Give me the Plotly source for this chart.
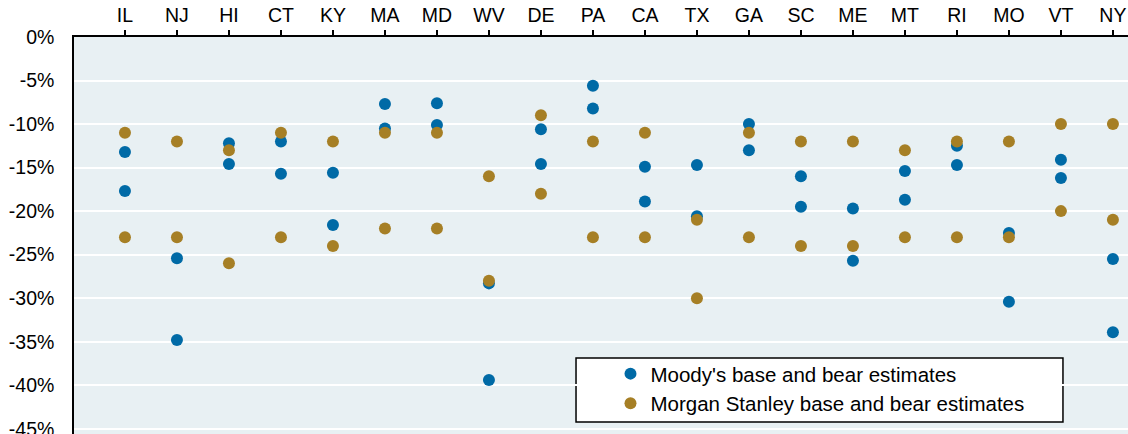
import plotly.graph_objects as go

states = ["IL", "NJ", "HI", "CT", "KY", "MA", "MD", "WV", "DE", "PA",
          "CA", "TX", "GA", "SC", "ME", "MT", "RI", "MO", "VT", "NY"]

moodys_base = [-13.2, -25.4, -12.2, -12.0, -15.6, -7.7, -7.6, -28.3, -10.6, -5.6,
               -14.9, -14.7, -10.0, -16.0, -19.7, -15.4, -12.5, -22.5, -14.1, -25.5]
moodys_bear = [-17.7, -34.8, -14.6, -15.7, -21.6, -10.5, -10.1, -39.4, -14.6, -8.2,
               -18.9, -20.6, -13.0, -19.5, -25.7, -18.7, -14.7, -30.4, -16.2, -33.9]

ms_base = [-11, -12, -13, -11, -12, -11, -11, -16, -9, -12,
           -11, -21, -11, -12, -12, -13, -12, -12, -10, -10]
ms_bear = [-23, -23, -26, -23, -24, -22, -22, -28, -18, -23,
           -23, -30, -23, -24, -24, -23, -23, -23, -20, -21]

y_ticks = [0, -5, -10, -15, -20, -25, -30, -35, -40, -45]
y_tick_labels = [f"{v}%" for v in y_ticks]

BLUE = "#006AA6"
GOLD = "#A67F25"
FONT = "Liberation Sans, Arial, sans-serif"

fig = go.Figure()
fig.add_trace(go.Scatter(
    x=states + states, y=moodys_base + moodys_bear, mode="markers",
    name="Moody's base and bear estimates",
    marker=dict(color=BLUE, size=12, line=dict(width=0)),
))
fig.add_trace(go.Scatter(
    x=states + states, y=ms_base + ms_bear, mode="markers",
    name="Morgan Stanley base and bear estimates",
    marker=dict(color=GOLD, size=12, line=dict(width=0)),
))

fig.add_shape(type="rect", xref="paper", yref="paper",
              x0=0.4763, x1=0.9383, y0=0.0302, y1=0.1914,
              line=dict(color="black", width=1.5), fillcolor="white", layer="below")

fig.update_layout(
    width=1128, height=434,
    margin=dict(l=74, r=0, t=37, b=0),
    paper_bgcolor="white",
    plot_bgcolor="#E8F0F3",
    font=dict(family=FONT, size=20, color="black"),
    showlegend=True,
    legend=dict(
        x=0.509, y=0.202, xanchor="left", yanchor="top",
        bgcolor="rgba(0,0,0,0)", borderwidth=0,
        font=dict(family=FONT, size=20.5, color="black"),
        itemwidth=30, tracegroupgap=0,
    ),
    xaxis=dict(
        side="top", type="category", categoryorder="array", categoryarray=states,
        range=[-0.98, 19.29], automargin=False,
        showline=True, linecolor="black", linewidth=1.5,
        ticks="outside", ticklen=5, tickcolor="black", tickwidth=1.5,
        showgrid=False, zeroline=False, ticklabeloverflow="allow",
        tickfont=dict(size=19.5),
    ),
    yaxis=dict(
        range=[-45.6, 0], automargin=False,
        tickvals=y_ticks, ticktext=y_tick_labels,
        showline=True, linecolor="black", linewidth=1.5,
        ticks="", showgrid=True, gridcolor="white", gridwidth=2,
        zeroline=False, tickfont=dict(size=19.5),
        ticklabelstandoff=14, ticklabeloverflow="allow",
    ),
)

fig.write_html(
    "out.html",
    config={"displayModeBar": False},
    post_script="document.body.style.margin='0';document.body.style.overflow='hidden';",
)
